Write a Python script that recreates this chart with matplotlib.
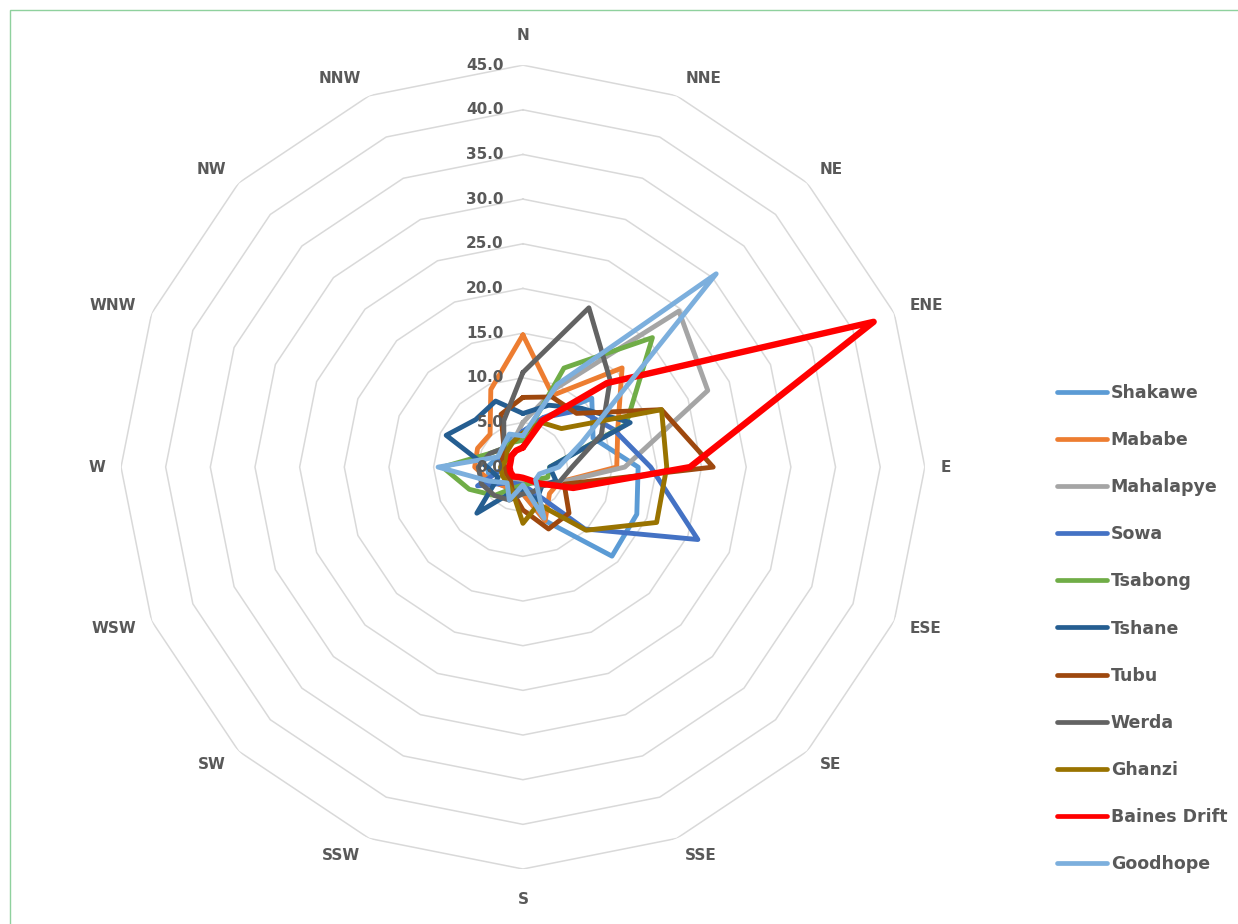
import numpy as np
import matplotlib
matplotlib.use("Agg")
import matplotlib.pyplot as plt
from matplotlib.patches import Rectangle

# wind direction frequencies (%) per station, clockwise from N
directions = ['N', 'NNE', 'NE', 'ENE', 'E', 'ESE', 'SE', 'SSE',
              'S', 'SSW', 'SW', 'WSW', 'W', 'WNW', 'NW', 'NNW']

shakawe   = [4.0, 6.0, 10.9, 8.5, 12.9, 13.8, 14.1, 6.5, 3.0, 2.5, 3.0, 4.0, 4.0, 3.0, 3.0, 3.5]
mababe    = [14.8, 8.7, 15.7, 11.5, 10.5, 4.4, 4.2, 6.5, 3.0, 3.0, 3.0, 4.0, 5.4, 5.5, 5.2, 9.4]
mahalapye = [5.0, 9.5, 24.7, 22.4, 11.4, 4.5, 2.5, 2.0, 1.5, 1.5, 2.0, 2.0, 2.5, 2.5, 2.5, 3.0]
sowa      = [4.0, 6.0, 9.0, 11.0, 14.3, 21.2, 9.8, 3.0, 2.0, 2.0, 2.5, 5.5, 2.0, 3.0, 3.0, 3.0]
tsabong   = [3.0, 12.0, 20.5, 12.5, 3.0, 3.0, 2.0, 2.0, 2.0, 2.5, 4.5, 6.5, 9.0, 4.0, 3.0, 3.0]
tshane    = [6.0, 7.5, 9.3, 13.0, 3.0, 4.0, 3.0, 4.0, 2.5, 3.0, 7.3, 3.0, 4.0, 9.3, 7.5, 8.0]
tubu      = [7.8, 8.5, 8.5, 16.8, 21.3, 5.0, 7.3, 7.5, 4.8, 3.0, 2.0, 2.0, 2.0, 2.5, 3.0, 6.4]
werda     = [10.6, 19.3, 13.8, 9.5, 5.5, 4.4, 3.0, 3.0, 3.0, 4.0, 4.5, 5.0, 5.0, 4.0, 3.0, 5.6]
ghanzi    = [3.8, 5.4, 6.1, 16.8, 16.1, 16.2, 10.0, 4.5, 6.3, 3.0, 2.5, 2.5, 2.5, 2.0, 2.5, 3.0]
baines    = [2.2, 5.6, 13.3, 42.5, 18.7, 6.1, 2.6, 1.5, 1.2, 1.2, 1.5, 1.5, 1.5, 1.5, 1.8, 2.0]
goodhope  = [3.5, 10.0, 30.6, 7.1, 4.0, 2.0, 2.0, 6.2, 2.0, 4.0, 2.5, 4.1, 9.5, 3.0, 3.2, 4.0]

stations = ['Shakawe', 'Mababe', 'Mahalapye', 'Sowa', 'Tsabong', 'Tshane',
            'Tubu', 'Werda', 'Ghanzi', 'Baines Drift', 'Goodhope']
series = [shakawe, mababe, mahalapye, sowa, tsabong, tshane,
          tubu, werda, ghanzi, baines, goodhope]
colors = ['#5B9BD5', '#ED7D31', '#A5A5A5', '#4472C4', '#70AD47', '#255E91',
          '#9E480E', '#636363', '#997300', '#FF0000', '#7CAFDD']

ring_values = np.arange(0, 46, 5)

plt.rcParams['font.family'] = ['DejaVu Sans']
text_col = '#595959'

fig = plt.figure(figsize=(12.38, 9.24), dpi=100)
fig.patches.append(Rectangle((10 / 1238, -0.01), 1.01, 1.0 - 10 / 924 + 0.01,
                             transform=fig.transFigure, fill=False,
                             edgecolor='#8FD19E', lw=1.0))

ax = fig.add_axes([0.0977, 0.0595, 0.6494, 0.870], projection='polar')
ax.set_theta_zero_location('N')
ax.set_theta_direction(-1)
ax.set_ylim(0, 45)
ax.set_axis_off()

theta = np.linspace(0, 2 * np.pi, len(directions), endpoint=False)
theta_c = np.append(theta, theta[0])

# polygon gridlines
for v in ring_values[1:]:
    ax.plot(theta_c, [v] * len(theta_c), color='#D9D9D9', lw=1.1, zorder=0)

for name, vals, c in zip(stations, series, colors):
    lw = 4.6 if name == 'Baines Drift' else 3.5
    ax.plot(theta_c, vals + vals[:1], color=c, lw=lw, label=name,
            solid_joinstyle='round', solid_capstyle='round')

# category labels, placed outside the outer ring like excel does
for t, d in zip(theta, directions):
    s, c = np.sin(t), np.cos(t)
    if abs(s) < 0.01:
        ha = 'center'
        dx = 0
        dy = 30 * c
    else:
        ha = 'left' if s > 0 else 'right'
        dx = (4 + 12 * abs(s)) * np.sign(s)
        dy = 19 * c
    ax.annotate(d, xy=(t, 45), xytext=(dx * 0.72, dy * 0.72),
                textcoords='offset points', ha=ha, va='center',
                fontsize=11, fontweight='bold', color=text_col)

for v in ring_values:
    ax.annotate(f"{v:.1f}", xy=(0, v), xytext=(-14, 0),
                textcoords='offset points', ha='right', va='center',
                fontsize=11, fontweight='bold', color=text_col)

leg = fig.legend(loc='center left', bbox_to_anchor=(1057 / 1238, 0.3198),
                 frameon=False, borderpad=0, borderaxespad=0,
                 handlelength=2.9, handletextpad=0.2, labelspacing=1.68,
                 prop={'size': 12.5, 'weight': 'bold'}, labelcolor=text_col)
for ln in leg.get_lines():
    ln.set_linewidth(3.4)

plt.savefig('out.png', dpi=100)
